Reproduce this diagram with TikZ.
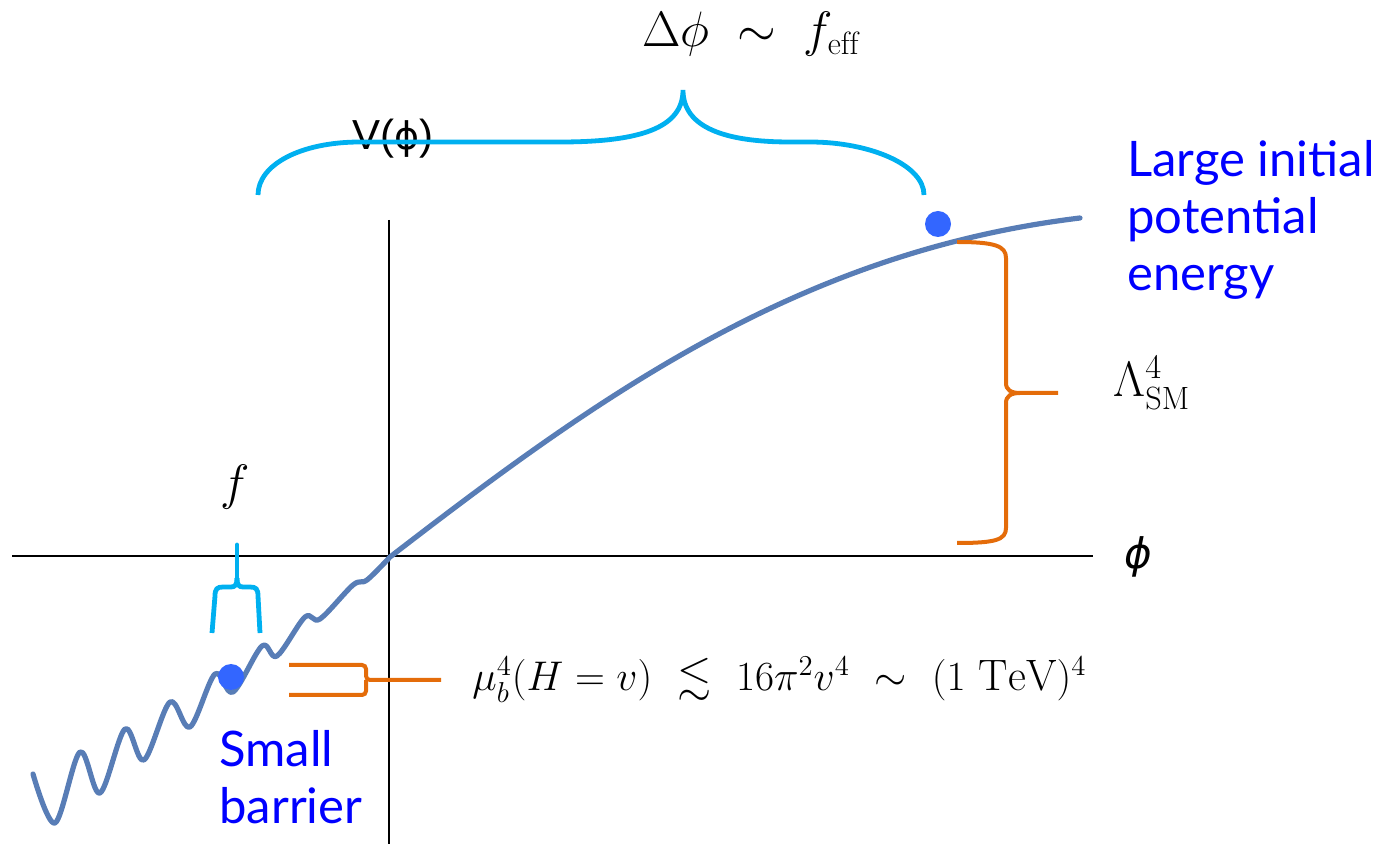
\documentclass[tikz,border=0pt]{standalone}
\usepackage{amsmath,amssymb}
\usepackage{fontspec}
\newfontfamily\notefont{Lato}
\newfontfamily\axisfont{Liberation Sans}
\newfontfamily\phifont{DejaVu Sans}
\definecolor{potblue}{RGB}{88,125,182}
\definecolor{ballblue}{RGB}{51,102,255}
\definecolor{skyblue}{RGB}{0,176,240}
\definecolor{rust}{RGB}{228,108,10}
\definecolor{noteblue}{RGB}{0,0,255}
\tikzset{
  axis/.style={draw=black,line width=0.6pt},
  pot/.style={draw=potblue,line width=2.6pt,line join=round,line cap=round},
  ball/.style={circle,fill=ballblue,minimum size=13pt,inner sep=0pt},
  cbr/.style={draw=skyblue,line width=2.4pt},
  obr/.style={draw=rust,line width=2pt},
  mlbl/.style={inner sep=0pt,font=\fontsize{23}{27}\selectfont},
  albl/.style={inner sep=0pt,font=\axisfont\fontsize{21}{25}\selectfont},
  note/.style={inner sep=0pt,text=noteblue,align=left,anchor=north west,
    font=\notefont\fontsize{24.5}{28.5}\selectfont}
}

\begin{document}
\begin{tikzpicture}[x=0.5pt,y=-0.5pt]
\useasboundingbox (0,0) rectangle (1394,844);
% axes
\coordinate (xl) at (12,556);
\coordinate (xr) at (1093,556);
\coordinate (yt) at (389,220);
\coordinate (yb) at (389,844);
\draw[axis] (xl) -- (xr);
\draw[axis] (yt) -- (yb);
\node[albl,anchor=base] (vphi) at (393,150) {V({\phifont\fontsize{19}{23}\selectfont ϕ})};
\node[albl] (phi) at (1138,557) {\phifont\itshape ϕ};
% potential
\draw[pot] plot[smooth,tension=0.55] coordinates {(33,774) (55,823) (80,752) (100,793)
  (125,729) (144,760) (170,702) (190,727) (215,674) (233,692) (262,646) (277,656)
  (305,617) (320,619) (353,585) (367,580) (390,557)}
  .. controls (600,395) and (800,252) .. (1080,218);
\node[ball] (lo) at (231,677) {};
\node[ball] (hi) at (938,224) {};
% braces
\draw[cbr] (258,195) .. controls (258,165) and (300,142) .. (360,142) -- (560,142)
  .. controls (640,142) and (683,128) .. (683,90)
  .. controls (683,128) and (726,142) .. (790,142) -- (810,142)
  .. controls (870,142) and (924,165) .. (924,195);
\draw[cbr] (212,633) -- (215,596) .. controls (215,589) and (217,587) .. (223,587) -- (231,587)
  .. controls (235,587) and (237,585) .. (237,578);
\draw[cbr] (260,633) -- (258,596) .. controls (258,589) and (256,587) .. (250,587) -- (243,587)
  .. controls (239,587) and (237,585) .. (237,578);
\draw[cbr,line cap=round] (237,578) -- (237,545);
\draw[obr] (957,242) .. controls (995,242) and (1006,246) .. (1006,258) -- (1006,383)
  .. controls (1006,390) and (1011,393) .. (1020,393) -- (1058,393);
\draw[obr] (957,543) .. controls (995,543) and (1006,540) .. (1006,528) -- (1006,403)
  .. controls (1006,396) and (1011,393) .. (1020,393);
\draw[obr,rounded corners=2pt] (289,665) -- (366,665) -- (366,680) -- (441,680);
\draw[obr,rounded corners=2pt] (289,695) -- (366,695) -- (366,680);
% labels
\node[mlbl,anchor=base] (dphi) at (751,47) {$\Delta\phi\ \sim\ f_{\rm eff}$};
\node[mlbl] (f) at (235,487) {$f$};
\node[mlbl,anchor=base west] (lam) at (1113,397) {$\Lambda_{\rm SM}^4$};
\node[mlbl,anchor=base west,font=\fontsize{22}{26}\selectfont] (mub) at (472,691)
  {$\mu_b^4(H=v)\ \lesssim\ 16\pi^2v^4\ \sim\ (1\ {\rm TeV})^4$};
\node[note] (large) at (1127,140) {Large initial\\potential\\energy};
\node[note] (small) at (219,730) {Small\\barrier};
\end{tikzpicture}
\end{document}
